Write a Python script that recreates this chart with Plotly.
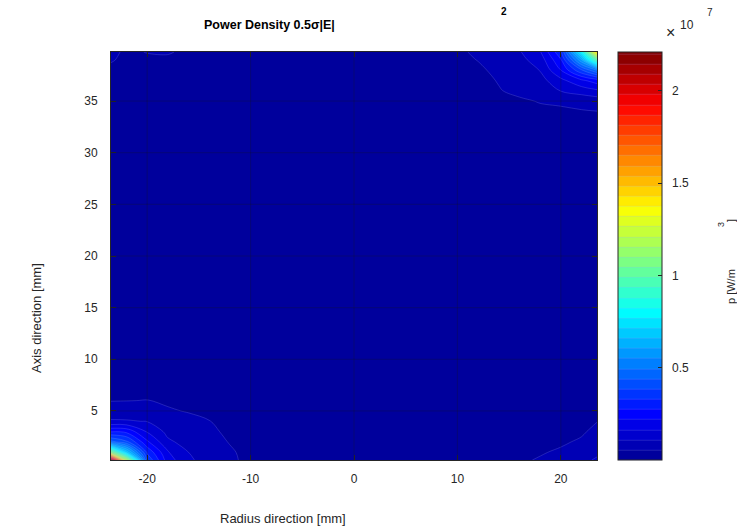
import plotly.graph_objects as go

# grid positions (mm)
radius_mm = [-23.5, -22, -20, -18, -16, -14, -12, -10, 0, 10, 12, 14, 16, 18, 20, 22, 23.5]
axis_mm = [0.25, 1, 2, 3, 4, 5, 6, 8, 20, 32, 34, 35, 36, 37, 38, 39, 39.75]

# power density in 1e6 W/m^3, one row per axis_mm value
p_rows = [
    [22.0, 12.0, 3.8, 1.9, 1.2, 0.85, 0.62, 0.45, 0.15, 0.30, 0.38, 0.44, 0.50, 0.58, 0.70, 0.90, 1.20],
    [11.0, 7.0, 3.2, 1.7, 1.1, 0.80, 0.60, 0.43, 0.15, 0.28, 0.35, 0.40, 0.46, 0.52, 0.60, 0.75, 0.95],
    [4.6, 4.0, 2.3, 1.2, 0.9, 0.70, 0.53, 0.40, 0.14, 0.25, 0.30, 0.35, 0.40, 0.45, 0.50, 0.60, 0.80],
    [2.7, 2.6, 1.6, 0.95, 0.75, 0.62, 0.48, 0.38, 0.13, 0.22, 0.26, 0.30, 0.34, 0.38, 0.43, 0.50, 0.65],
    [1.15, 1.14, 1.08, 0.80, 0.68, 0.56, 0.45, 0.36, 0.12, 0.20, 0.23, 0.26, 0.30, 0.33, 0.37, 0.43, 0.54],
    [0.85, 0.84, 0.82, 0.60, 0.52, 0.45, 0.38, 0.33, 0.11, 0.17, 0.20, 0.22, 0.25, 0.28, 0.31, 0.36, 0.44],
    [0.53, 0.54, 0.56, 0.48, 0.42, 0.38, 0.33, 0.30, 0.10, 0.15, 0.17, 0.19, 0.21, 0.24, 0.27, 0.30, 0.36],
    [0.36, 0.37, 0.38, 0.35, 0.32, 0.30, 0.27, 0.25, 0.09, 0.12, 0.13, 0.14, 0.15, 0.17, 0.19, 0.21, 0.24],
    [0.20, 0.20, 0.19, 0.18, 0.17, 0.16, 0.15, 0.14, 0.08, 0.14, 0.15, 0.16, 0.17, 0.18, 0.19, 0.20, 0.20],
    [0.30, 0.28, 0.26, 0.24, 0.22, 0.20, 0.18, 0.17, 0.12, 0.25, 0.28, 0.30, 0.32, 0.34, 0.36, 0.38, 0.40],
    [0.36, 0.33, 0.31, 0.29, 0.26, 0.24, 0.22, 0.20, 0.15, 0.30, 0.35, 0.40, 0.45, 0.48, 0.50, 0.52, 0.545],
    [0.39, 0.36, 0.34, 0.31, 0.28, 0.26, 0.24, 0.22, 0.17, 0.33, 0.40, 0.47, 0.50, 0.57, 0.60, 0.70, 0.78],
    [0.42, 0.39, 0.36, 0.33, 0.30, 0.28, 0.26, 0.24, 0.18, 0.38, 0.45, 0.53, 0.63, 0.80, 1.12, 1.35, 1.55],
    [0.45, 0.42, 0.39, 0.36, 0.33, 0.30, 0.28, 0.26, 0.20, 0.40, 0.45, 0.57, 0.75, 0.90, 1.50, 2.10, 2.50],
    [0.50, 0.46, 0.44, 0.43, 0.38, 0.34, 0.31, 0.29, 0.22, 0.45, 0.50, 0.62, 0.85, 1.12, 2.20, 3.80, 5.00],
    [0.57, 0.50, 0.50, 0.49, 0.42, 0.37, 0.33, 0.31, 0.24, 0.47, 0.56, 0.75, 0.95, 1.35, 2.70, 6.00, 10.0],
    [0.62, 0.50, 0.56, 0.58, 0.48, 0.40, 0.35, 0.33, 0.25, 0.48, 0.62, 0.85, 1.05, 1.60, 3.20, 8.00, 14.5],
]

x_ticks = [-20, -10, 0, 10, 20]
y_ticks = [5, 10, 15, 20, 25, 30, 35]
cbar_ticks = [0.5, 1, 1.5, 2]  # x 1e7

# matlab jet
jet = [[0, 'rgb(0,0,143)'], [0.111, 'rgb(0,0,255)'], [0.365, 'rgb(0,255,255)'],
       [0.619, 'rgb(255,255,0)'], [0.873, 'rgb(255,0,0)'], [1, 'rgb(128,0,0)']]

FONT = "Liberation Sans, Arial, Helvetica, sans-serif"
TXT = '#262626'

z = [[v * 1e6 for v in row] for row in p_rows]

fig = go.Figure(go.Contour(
    x=radius_mm, y=axis_mm, z=z,
    colorscale=jet, zmin=0, zmax=2.21e7,
    contours=dict(start=0, end=2.2e7, size=5.5e5, coloring='fill'),
    line=dict(color='rgba(170,170,255,0.4)', width=0.5),
    colorbar=dict(
        x=(618 - 111) / 486, xanchor='left', xpad=0, ypad=0,
        y=0.5, yanchor='middle', len=1, thickness=44,
        outlinecolor=TXT, outlinewidth=1,
        ticks='inside', ticklen=4, tickcolor=TXT,
        tickvals=[t * 1e7 for t in cbar_ticks],
        ticktext=['\u00a0\u00a0' + f'{t:g}' for t in cbar_ticks],
        tickfont=dict(family=FONT, size=12, color=TXT),
    ),
    hovertemplate='%{x} mm, %{y} mm<br>%{z:.3s} W/m³<extra></extra>',
))

W, H = 737, 530
L, R, T, B = 111, 597, 52, 460


def px(x):
    return (x - L) / (R - L)


def py(y):
    return (B - y) / (B - T)


def note(text, x, y, size, angle=0, bold=False, color=TXT):
    if bold:
        text = f'<b>{text}</b>'
    fig.add_annotation(text=text, x=px(x), y=py(y), xref='paper', yref='paper',
                       showarrow=False, textangle=angle, xanchor='center', yanchor='middle',
                       font=dict(family=FONT, size=size, color=color))


# titles placed as in the matlab export
note('Power Density 0.5σ|E|', 269, 25, 12.5, bold=True, color='black')
note('2', 504, 12, 10, bold=True, color='black')
note('Radius direction [mm]', 283, 518, 13)
note('Axis direction [mm]', 36, 318, 13, angle=-90)
note('×', 670, 33, 16)
note('10', 687, 25, 12)
note('7', 710, 13, 10)
note('p [W/m', 731, 287, 11, angle=-90)
note('3', 721, 225, 9, angle=-90)
note(']', 731, 221, 11, angle=-90)

# grid drawn above the filled contours
for t in x_ticks:
    fig.add_shape(type='line', xref='x', yref='paper', x0=t, x1=t, y0=0, y1=1,
                  line=dict(color='rgba(20,20,40,0.3)', width=1), layer='above')
for t in y_ticks:
    fig.add_shape(type='line', xref='paper', yref='y', x0=0, x1=1, y0=t, y1=t,
                  line=dict(color='rgba(20,20,40,0.3)', width=1), layer='above')

axis_style = dict(showline=True, linecolor=TXT, linewidth=1, mirror='ticks',
                  ticks='inside', ticklen=5, tickcolor=TXT, showgrid=False, zeroline=False,
                  layer='above traces', tickfont=dict(family=FONT, size=12, color=TXT))

fig.update_xaxes(range=[-23.5, 23.5], tickvals=x_ticks, ticktext=[str(t) for t in x_ticks],
                 ticklabelstandoff=8, **axis_style)
fig.update_yaxes(range=[0.25, 39.75], tickvals=y_ticks, ticktext=[str(t) for t in y_ticks],
                 ticklabelstandoff=10, **axis_style)

fig.update_layout(
    width=W, height=H, autosize=False,
    margin=dict(l=L, r=W - R, t=T, b=H - B),
    paper_bgcolor='white', plot_bgcolor='white',
    font=dict(family=FONT, color=TXT),
    showlegend=False,
)

fig.write_html("out.html", config={'displayModeBar': False},
               post_script="document.body.style.margin='0';")
